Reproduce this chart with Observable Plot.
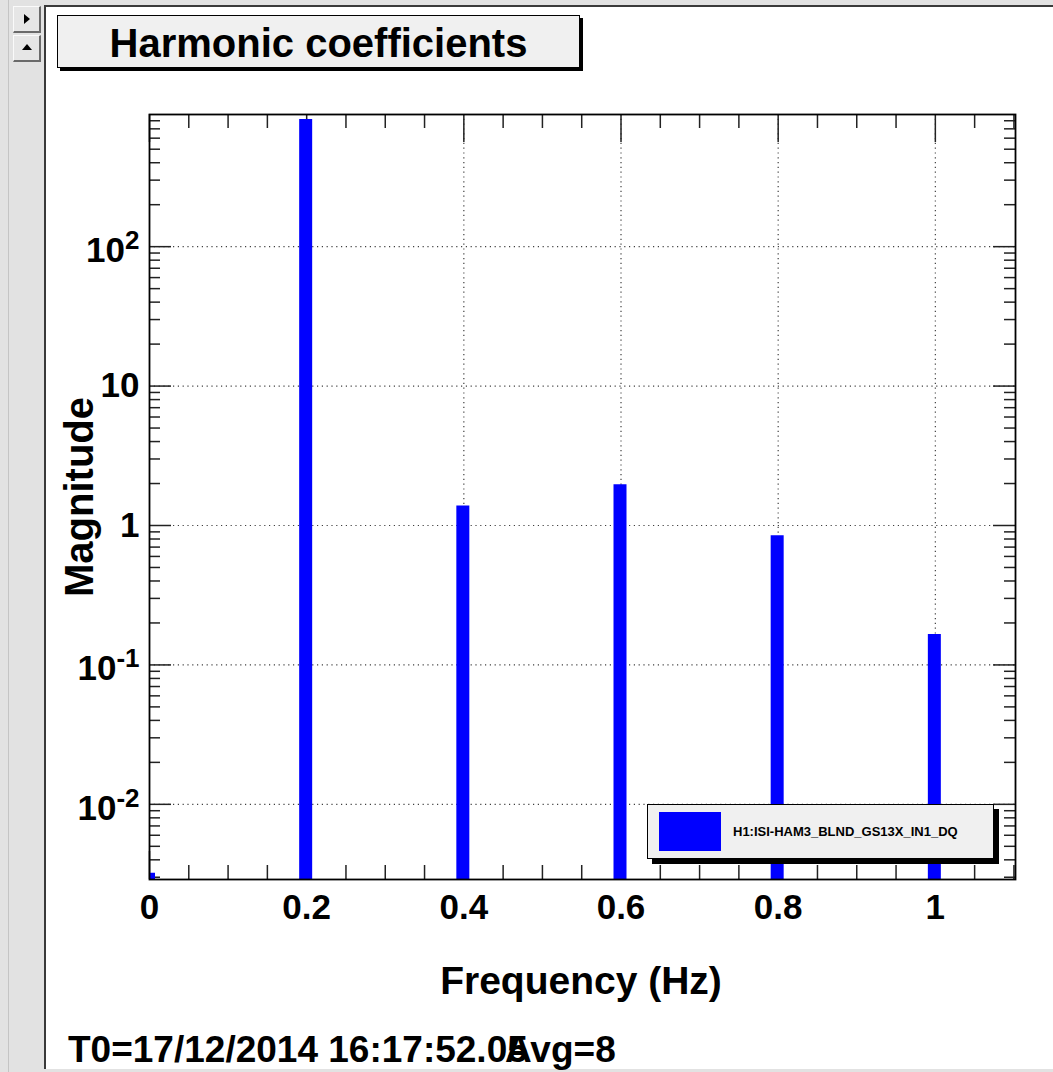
<!DOCTYPE html>
<html>
<head>
<meta charset="utf-8">
<script src="https://cdn.jsdelivr.net/npm/d3@7"></script>
<script src="https://cdn.jsdelivr.net/npm/@observablehq/plot@0.6"></script>
<style>
  html, body { margin: 0; padding: 0; background: #e2e2e2; }
  #root { position: relative; width: 1053px; height: 1072px; overflow: hidden;
          font-family: "Liberation Sans", Arial, Helvetica, sans-serif; font-weight: bold; color: #000; }
  .stripline { position: absolute; left: 8px; top: 0; width: 1px; height: 1072px; background: #c4c4c4; }
  .canvas { position: absolute; left: 44px; top: 5px; width: 1020px; height: 1062px; background: #fff;
            border-left: 2px solid #3a3a3a; border-top: 2px solid #3a3a3a; }
  .btn { position: absolute; left: 13px; width: 25px; height: 24px; background: #e6e6e6;
         border-top: 1px solid #fafafa; border-left: 1px solid #fafafa;
         border-right: 2px solid #6a6a6a; border-bottom: 2px solid #6a6a6a; }
  .b1 { top: 6px; } .b2 { top: 35px; }
  .tri-r { position: absolute; left: 10px; top: 7px; width: 0; height: 0;
           border-top: 5px solid transparent; border-bottom: 5px solid transparent; border-left: 6px solid #000; }
  .tri-u { position: absolute; left: 8px; top: 8px; width: 0; height: 0;
           border-left: 5px solid transparent; border-right: 5px solid transparent; border-bottom: 6px solid #000; }
  #chart { position: absolute; left: 0; top: 0; }
  .title { position: absolute; left: 57px; top: 15px; width: 521px; height: 51px; background: #f0f0f0;
           border: 1px solid #000; box-shadow: 3px 3px 0 #000; text-align: center;
           font-size: 40px; line-height: 55px; white-space: nowrap; overflow: hidden; }
  .legend { position: absolute; left: 647px; top: 804px; width: 345px; height: 53px; background: #f0f0f0;
            border: 1px solid #000; box-shadow: 5px 5px 0 #000; }
  .legend .sw { position: absolute; left: 11px; top: 7px; width: 62px; height: 39px; background: #0000ff; }
  .legend .lt { position: absolute; left: 85px; top: 0; line-height: 53px; font-size: 13px; white-space: nowrap; }
  .foot { position: absolute; top: 1031px; font-size: 37px; line-height: 37px; white-space: nowrap; }
</style>
</head>
<body>
<div id="root">
  <div class="stripline"></div>
  <div class="canvas"></div>
  <div class="btn b1"><div class="tri-r"></div></div>
  <div class="btn b2"><div class="tri-u"></div></div>
  <div id="chart"></div>
  <div class="title" id="title"></div>
  <div class="legend"><div class="sw"></div><div class="lt" id="legendText"></div></div>
  <div class="foot" id="footT0" style="left:68px"></div>
  <div class="foot" id="footAvg" style="left:505px"></div>
</div>
<script>
// ---- data ----
const frequencies = [0, 0.2, 0.4, 0.6, 0.8, 1.0];
const magnitudes  = [0.0032, 817, 1.38, 1.96, 0.845, 0.165];

const xMajorTicks = [0, 0.2, 0.4, 0.6, 0.8, 1];
const xTickLabels = ["0", "0.2", "0.4", "0.6", "0.8", "1"];
const xMinorTicks = [0.05, 0.1, 0.15, 0.25, 0.3, 0.35, 0.45, 0.5, 0.55, 0.65, 0.7, 0.75, 0.85, 0.9, 0.95, 1.05, 1.1];

const yMajorTicks = [0.01, 0.1, 1, 10, 100];
const yTickLabels = ["10^-2", "10^-1", "1", "10", "10^2"];
const yMinorTicks = [0.003, 0.004, 0.005, 0.006, 0.007, 0.008, 0.009,
                     0.02, 0.03, 0.04, 0.05, 0.06, 0.07, 0.08, 0.09,
                     0.2, 0.3, 0.4, 0.5, 0.6, 0.7, 0.8, 0.9,
                     2, 3, 4, 5, 6, 7, 8, 9,
                     20, 30, 40, 50, 60, 70, 80, 90,
                     200, 300, 400, 500, 600, 700, 800];

const titleText   = "Harmonic coefficients";
const xTitle      = "Frequency (Hz)";
const yTitle      = "Magnitude";
const legendLabel = "H1:ISI-HAM3_BLND_GS13X_IN1_DQ";
const footT0      = "T0=17/12/2014 16:17:52.05";
const footAvg     = "Avg=8";

// ---- layout ----
const W = 1053, H = 1072;
const mL = 149, mR = 38, mT = 114, mB = 193;
const fw = W - mL - mR, fh = H - mT - mB;

const data = frequencies.map((f, i) => ({freq: f, mag: magnitudes[i]}));
const tick = {stroke: "#222", strokeWidth: 1.5};
const grid = {stroke: "#000", strokeOpacity: 0.75, strokeWidth: 1.2, strokeDasharray: "1.2,3.6"};

const chart = Plot.plot({
  width: W, height: H,
  marginLeft: mL, marginRight: mR, marginTop: mT, marginBottom: mB,
  style: {background: "transparent", fontFamily: "'Liberation Sans', Arial, Helvetica, sans-serif",
          fontWeight: "bold", overflow: "visible", color: "#000"},
  x: {domain: [0, 1.102], label: null},
  y: {type: "log", domain: [0.00289, 887], label: null},
  marks: [
    Plot.gridX(xMajorTicks.slice(1), grid),
    Plot.gridY(yMajorTicks, grid),
    Plot.ruleX(xMinorTicks, {insetTop: fh - 14, ...tick}),
    Plot.ruleX(xMinorTicks, {insetBottom: fh - 14, ...tick}),
    Plot.ruleX(xMajorTicks, {insetTop: fh - 28, ...tick}),
    Plot.ruleX(xMajorTicks, {insetBottom: fh - 28, ...tick}),
    Plot.ruleY(yMinorTicks, {insetRight: fw - 11, ...tick}),
    Plot.ruleY(yMinorTicks, {insetLeft: fw - 11, ...tick}),
    Plot.ruleY(yMajorTicks, {insetRight: fw - 22, ...tick}),
    Plot.ruleY(yMajorTicks, {insetLeft: fw - 22, ...tick}),
    Plot.ruleX(data, {x: "freq", y1: () => 1e-9, y2: "mag", stroke: "#0000ff", strokeWidth: 13, dx: -1, clip: true}),
    Plot.frame({stroke: "#000", strokeWidth: 1.8}),
    Plot.axisX(xMajorTicks, {tickSize: 0, tickPadding: 15, fontSize: 35, fill: "#000",
      tickFormat: d => xTickLabels[xMajorTicks.indexOf(d)], label: null}),
    Plot.axisY(yMajorTicks, {tickSize: 0, tickPadding: 10, fontSize: 35, fill: "#000",
      tickFormat: d => yTickLabels[yMajorTicks.indexOf(d)], label: null}),
    Plot.text([xTitle], {text: d => d, frameAnchor: "bottom", lineAnchor: "bottom", textAnchor: "middle",
      dx: -1.5, dy: 114, fontSize: 39, fill: "#000"}),
    Plot.text([yTitle], {text: d => d, frameAnchor: "left", lineAnchor: "bottom", textAnchor: "middle",
      rotate: -90, dx: -57, fontSize: 40, fill: "#000"})
  ]
});

// superscripts for 10^n labels
d3.select(chart).selectAll("text").each(function() {
  const t = this.textContent;
  if (t.includes("^")) {
    const [base, exp] = t.split("^");
    const sel = d3.select(this);
    sel.text(null);
    sel.append("tspan").attr("dy", 4).text(base);
    sel.append("tspan").attr("dy", -13).attr("font-size", 26).text(exp);
  }
});

document.getElementById("chart").appendChild(chart);
document.getElementById("title").textContent = titleText;
document.getElementById("legendText").textContent = legendLabel;
document.getElementById("footT0").textContent = footT0;
document.getElementById("footAvg").textContent = footAvg;
</script>
</body>
</html>
